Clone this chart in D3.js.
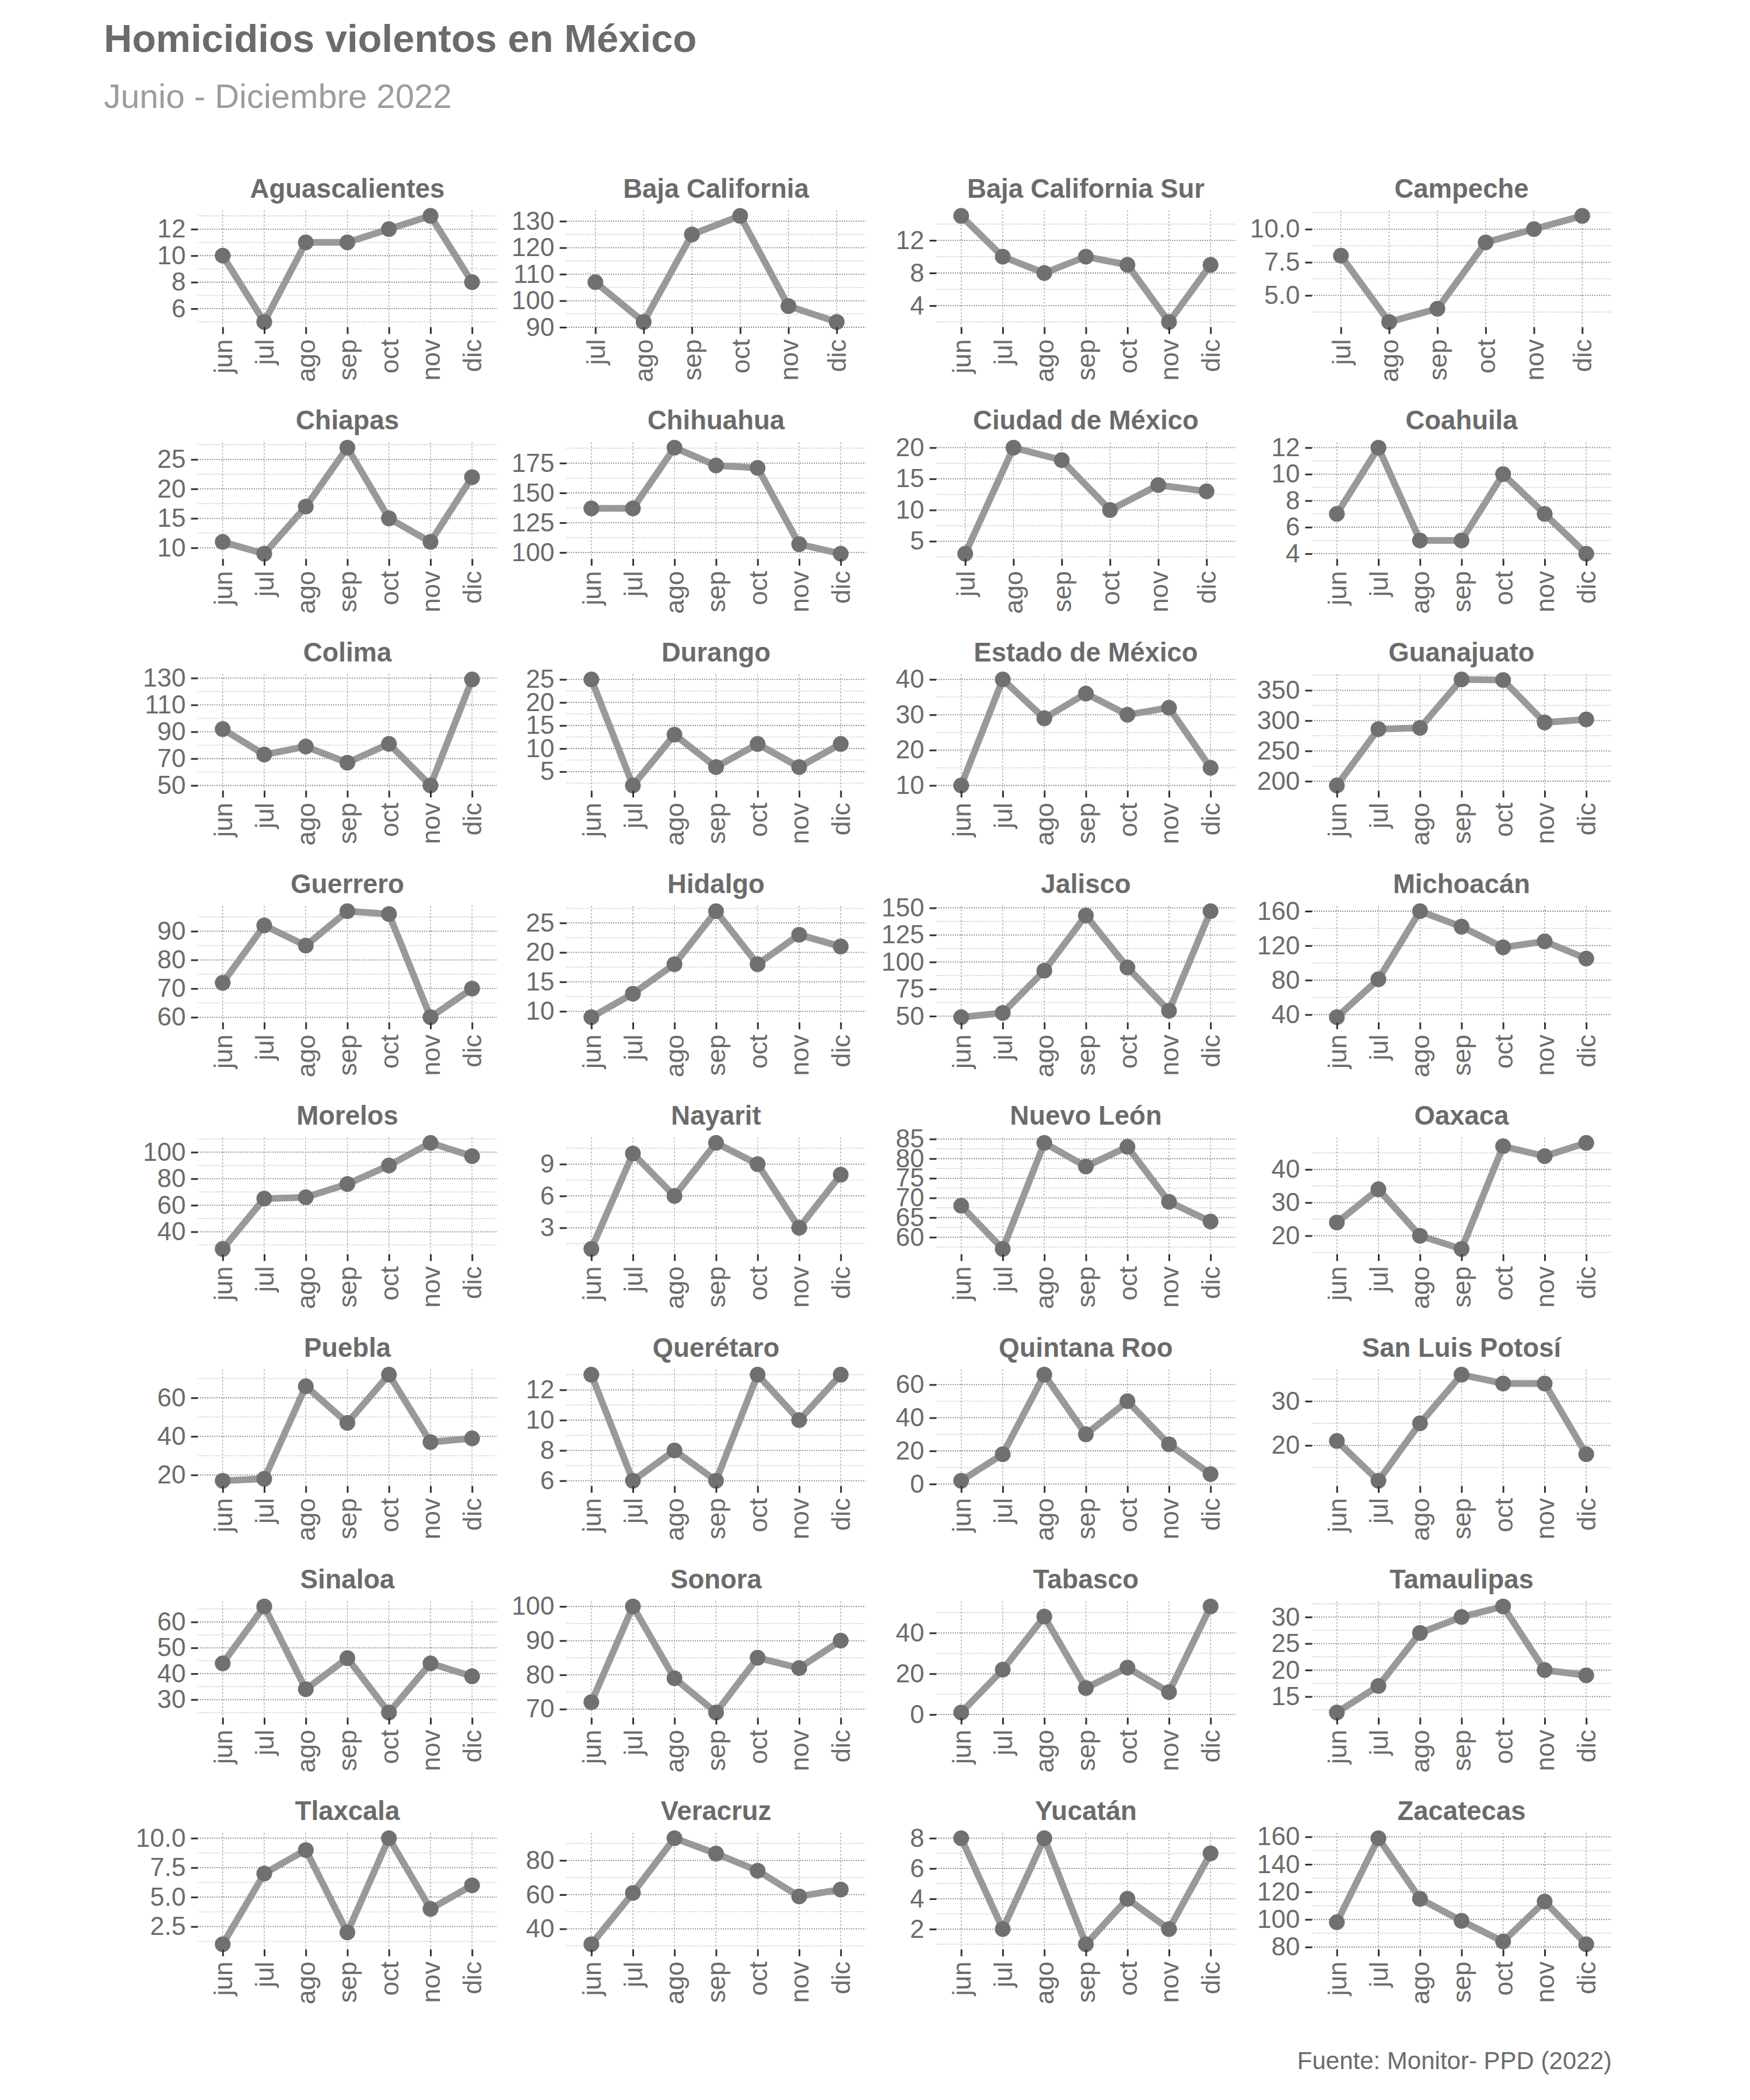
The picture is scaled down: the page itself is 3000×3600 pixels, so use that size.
<!DOCTYPE html>
<html><head><meta charset="utf-8">
<script src="https://cdn.jsdelivr.net/npm/d3@7"></script>
<style>body{margin:0;background:#fff}</style>
</head><body><svg id="chart"></svg>
<script>
// ---------------- data ----------------
const states = ["Aguascalientes","Baja California","Baja California Sur","Campeche",
  "Chiapas","Chihuahua","Ciudad de México","Coahuila",
  "Colima","Durango","Estado de México","Guanajuato",
  "Guerrero","Hidalgo","Jalisco","Michoacán",
  "Morelos","Nayarit","Nuevo León","Oaxaca",
  "Puebla","Querétaro","Quintana Roo","San Luis Potosí",
  "Sinaloa","Sonora","Tabasco","Tamaulipas",
  "Tlaxcala","Veracruz","Yucatán","Zacatecas"];
const months = ["jun","jul","ago","sep","oct","nov","dic"];
// monthly values (null = no record for that month)
const homicidios = [
  [10,5,11,11,12,13,8],
  [null,107,92,125,132,98,92],
  [15,10,8,10,9,2,9],
  [null,8,3,4,9,10,11],
  [11,9,17,27,15,11,22],
  [137,137,188,173,171,107,99],
  [null,3,20,18,10,14,13],
  [7,12,5,5,10,7,4],
  [92,73,79,67,81,50,129],
  [25,2,13,6,11,6,11],
  [10,40,29,36,30,32,15],
  [193,286,288,368,367,297,302],
  [72,92,85,97,96,60,70],
  [9,13,18,27,18,23,21],
  [49,53,92,143,95,55,147],
  [37,81,160,142,118,125,105],
  [27,65,66,76,90,107,97],
  [1,10,6,11,9,3,8],
  [68,57,84,78,83,69,64],
  [24,34,20,16,47,44,48],
  [17,18,66,47,72,37,39],
  [13,6,8,6,13,10,13],
  [2,18,66,30,50,24,6],
  [21,12,25,36,34,34,18],
  [44,66,34,46,25,44,39],
  [72,100,79,69,85,82,90],
  [1,22,48,13,23,11,53],
  [12,17,27,30,32,20,19],
  [1,7,9,2,10,4,6],
  [31,61,93,84,74,59,63],
  [8,2,8,1,4,2,7],
  [98,159,115,99,84,113,82]
];
// y-axis tick labels per panel
const yTicks = [
  [6,8,10,12],[90,100,110,120,130],[4,8,12],[5,7.5,10],
  [10,15,20,25],[100,125,150,175],[5,10,15,20],[4,6,8,10,12],
  [50,70,90,110,130],[5,10,15,20,25],[10,20,30,40],[200,250,300,350],
  [60,70,80,90],[10,15,20,25],[50,75,100,125,150],[40,80,120,160],
  [40,60,80,100],[3,6,9],[60,65,70,75,80,85],[20,30,40],
  [20,40,60],[6,8,10,12],[0,20,40,60],[20,30],
  [30,40,50,60],[70,80,90,100],[0,20,40],[15,20,25,30],
  [2.5,5,7.5,10],[40,60,80],[2,4,6,8],[80,100,120,140,160]
];
const titleText = "Homicidios violentos en México";
const subtitleText = "Junio - Diciembre 2022";
const captionText = "Fuente: Monitor- PPD (2022)";

// ---------------- layout ----------------
const W = 3000, H = 3600;
const FONT = "'Liberation Sans', Arial, Helvetica, sans-serif";
const colLeft = [339, 971, 1605, 2249];
const panelW = 513, panelH = 200, top0 = 361, rowPitch = 397.3;
const TXT = "#6b6b6b";
const tickLen = 11.5, tickPad = 9;

const svg = d3.select("#chart").attr("width", W).attr("height", H)
  .style("font-family", FONT);
svg.append("rect").attr("width", W).attr("height", H).attr("fill", "#fff");

svg.append("text").attr("x", 178).attr("y", 89).text(titleText)
  .attr("font-size", 67).attr("font-weight", "bold").attr("fill", TXT);
svg.append("text").attr("x", 178).attr("y", 185).text(subtitleText)
  .attr("font-size", 58).attr("fill", "#9c9c9c");
svg.append("text").attr("x", 2763).attr("y", 3547).text(captionText)
  .attr("font-size", 42).attr("fill", TXT).attr("text-anchor", "end");

states.forEach((name, i) => {
  const L = colLeft[i % 4];
  const T = top0 + Math.floor(i / 4) * rowPitch;
  const data = months.map((m, j) => ({m, v: homicidios[i][j]})).filter(d => d.v != null);
  const x = d3.scalePoint().domain(data.map(d => d.m)).range([L, L + panelW]).padding(0.6);
  const [mn, mx] = d3.extent(data, d => d.v);
  const pad = (mx - mn) * 0.05;
  const y = d3.scaleLinear().domain([mn - pad, mx + pad]).range([T + panelH, T]);
  const ticks = yTicks[i];
  const step = ticks[1] - ticks[0];
  const dom = y.domain();
  const minor = [ticks[0] - step / 2, ...ticks.map(t => t + step / 2)]
    .filter(v => v >= dom[0] && v <= dom[1]);
  const major = ticks.filter(v => v >= dom[0] && v <= dom[1]);
  const dec = ticks.some(t => !Number.isInteger(t)) ? 1 : 0;
  const fmt = d3.format("." + dec + "f");

  const g = svg.append("g");
  // grid
  g.selectAll(".minor").data(minor).join("line")
    .attr("x1", L).attr("x2", L + panelW).attr("y1", d => y(d)).attr("y2", d => y(d))
    .attr("stroke", "#c9c9c9").attr("stroke-width", 1.6).attr("stroke-dasharray", "2,2");
  g.selectAll(".major").data(major).join("line")
    .attr("x1", L).attr("x2", L + panelW).attr("y1", d => y(d)).attr("y2", d => y(d))
    .attr("stroke", "#8a8a8a").attr("stroke-width", 1.8).attr("stroke-dasharray", "2,2");
  g.selectAll(".vgrid").data(data).join("line")
    .attr("x1", d => x(d.m)).attr("x2", d => x(d.m)).attr("y1", T).attr("y2", T + panelH)
    .attr("stroke", "#b0b0b0").attr("stroke-width", 1.6).attr("stroke-dasharray", "3,3");

  // line + points
  g.append("path").datum(data)
    .attr("d", d3.line().x(d => x(d.m)).y(d => y(d.v)))
    .attr("fill", "none").attr("stroke", "#999999").attr("stroke-width", 11.5)
    .attr("stroke-linejoin", "round");
  g.selectAll(".pt").data(data).join("circle")
    .attr("cx", d => x(d.m)).attr("cy", d => y(d.v)).attr("r", 13.5).attr("fill", "#707070");

  // axes
  const ay = g.append("g").attr("transform", `translate(${L},0)`)
    .call(d3.axisLeft(y).tickValues(major).tickFormat(fmt).tickSize(tickLen).tickPadding(tickPad));
  const ax = g.append("g").attr("transform", `translate(0,${T + panelH})`)
    .call(d3.axisBottom(x).tickSize(tickLen).tickPadding(tickPad));
  [ay, ax].forEach(a => {
    a.select(".domain").remove();
    a.selectAll(".tick line").attr("stroke", "#333").attr("stroke-width", 3);
    a.selectAll(".tick text").attr("font-size", 44).attr("fill", TXT).attr("font-family", FONT);
  });
  ax.selectAll(".tick text")
    .attr("transform", "rotate(-90)")
    .attr("text-anchor", "end")
    .attr("x", -(tickLen + tickPad)).attr("y", 0).attr("dy", "0.35em");

  // strip title
  g.append("text").attr("x", L + panelW / 2).attr("y", T - 22).text(name)
    .attr("text-anchor", "middle").attr("font-size", 45.5).attr("font-weight", "bold").attr("fill", TXT);
});
</script>
</body></html>
